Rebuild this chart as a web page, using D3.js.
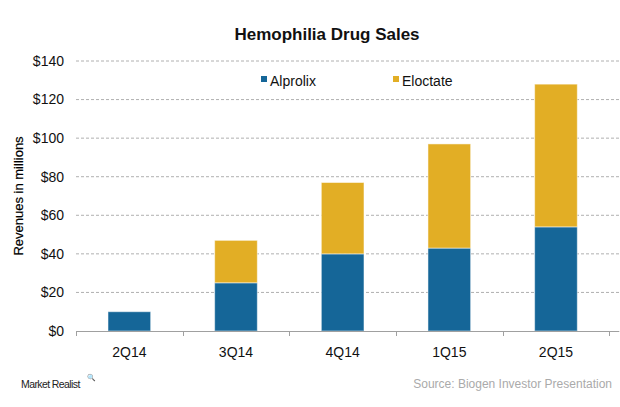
<!DOCTYPE html>
<html><head><meta charset="utf-8">
<script src="https://cdn.jsdelivr.net/npm/d3@7"></script>
<style>body{margin:0;background:#fff}svg{display:block;font-family:"Liberation Sans",Arial,sans-serif}</style>
</head><body><svg id="c" width="620" height="407"></svg>
<script>
const categories = ["2Q14","3Q14","4Q14","1Q15","2Q15"];
const alprolix = [10,25,40,43,54];
const eloctate = [0,22,37,54,74];
const seriesNames = ["Alprolix","Eloctate"];
const yTicks = [0,20,40,60,80,100,120,140];
const colors = ["#156698","#e2ae25"];

const svg = d3.select("#c");
const m = {l:76,r:609.3,t:61,b:331};
const x = d3.scaleBand().domain(categories).range([m.l,m.r]).paddingInner(0.6).paddingOuter(0.3);
const y = d3.scaleLinear().domain([0,140]).range([m.b,m.t]);

// gridlines
svg.append("g").selectAll("line").data(yTicks.filter(d=>d>0)).join("line")
  .attr("x1",m.l).attr("x2",m.r+10).attr("y1",d=>y(d)).attr("y2",d=>y(d))
  .attr("stroke","#b0b0b0").attr("stroke-dasharray","3,2").attr("stroke-width",1);

// y labels
svg.append("g").selectAll("text").data(yTicks).join("text")
  .attr("x",64).attr("y",d=>y(d)).attr("dy","0.35em").attr("text-anchor","end")
  .attr("font-size",14).attr("fill","#111").text(d=>"$"+d);

// stacked data
const table = categories.map((c,i)=>({cat:c,Alprolix:alprolix[i],Eloctate:eloctate[i]}));
const stack = d3.stack().keys(seriesNames)(table);
svg.append("g").selectAll("g").data(stack).join("g").attr("fill",(d,i)=>colors[i])
  .selectAll("rect").data(d=>d.filter(p=>p[1]-p[0]>0)).join("rect")
  .attr("x",d=>x(d.data.cat)).attr("width",x.bandwidth())
  .attr("y",d=>y(d[1])).attr("height",d=>y(d[0])-y(d[1]))
  .attr("stroke","#fff").attr("stroke-opacity",0.5).attr("stroke-width",1);

// x axis baseline and ticks
const ax = svg.append("g");
ax.append("line").attr("x1",m.l).attr("x2",m.r+10).attr("y1",m.b+0.5).attr("y2",m.b+0.5).attr("stroke","#a0a0a0");
const bounds = d3.range(categories.length+1).map(i=>m.l+i*(m.r-m.l)/categories.length);
ax.selectAll("line.t").data(bounds).join("line").attr("class","t")
  .attr("x1",d=>Math.round(d)+0.5).attr("x2",d=>Math.round(d)+0.5).attr("y1",m.b).attr("y2",m.b+5).attr("stroke","#a0a0a0");
ax.selectAll("text").data(categories).join("text")
  .attr("x",d=>x(d)+x.bandwidth()/2).attr("y",357).attr("text-anchor","middle")
  .attr("font-size",14).attr("fill","#111").text(d=>d);

// title
svg.append("text").attr("x",327).attr("y",40).attr("text-anchor","middle")
  .attr("font-size",17).attr("font-weight","bold").attr("fill","#111").text("Hemophilia Drug Sales");

// y axis title
svg.append("text").attr("transform","translate(23,196) rotate(-90)").attr("text-anchor","middle")
  .attr("font-size",13).attr("fill","#000").attr("stroke","#000").attr("stroke-width",0.2).text("Revenues in millions");

// legend
const legX = [261,393];
const lg = svg.append("g").selectAll("g").data(seriesNames).join("g")
  .attr("transform",(d,i)=>`translate(${legX[i]},81)`);
lg.append("rect").attr("x",0).attr("y",-5).attr("width",6).attr("height",6).attr("fill",(d,i)=>colors[i]);
lg.append("text").attr("x",9).attr("y",0).attr("dy","0.35em").attr("font-size",14).attr("fill","#111").text(d=>d);

// footer
svg.append("text").attr("x",21).attr("y",388).attr("font-size",10.5).attr("fill","#222").attr("letter-spacing","-0.6").text("Market Realist");
svg.append("text").attr("x",87).attr("y",380).attr("font-size",7).attr("fill","#222").text("🔍");
svg.append("text").attr("x",612).attr("y",388).attr("text-anchor","end").attr("font-size",12).attr("fill","#aaa").text("Source: Biogen  Investor Presentation");
</script></body></html>
